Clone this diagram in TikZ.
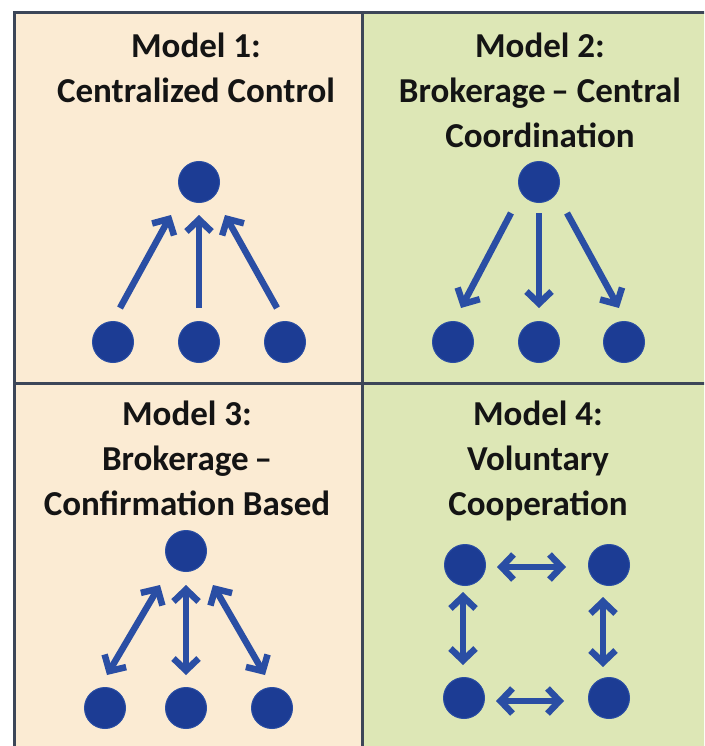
\documentclass[tikz,border=0pt]{standalone}
\usepackage{fontspec}
\setmainfont{Carlito}
\usetikzlibrary{arrows.meta,calc}
\definecolor{panelbeige}{HTML}{FBEBD3}
\definecolor{panelgreen}{HTML}{DDE7B6}
\definecolor{dotblue}{HTML}{1C3C94}
\definecolor{arrblue}{HTML}{2A4EA4}
\definecolor{gridline}{HTML}{3C4658}
\begin{document}
\begin{tikzpicture}[x=1pt,y=-1pt,
  dot/.style={circle,fill=dotblue,draw=arrblue,line width=1pt,minimum size=41pt,inner sep=0pt},
  barb/.tip={Straight Barb[length=12pt,width=25pt]},
  arr/.style={draw=arrblue,line width=6.5pt,-barb},
  darr/.style={draw=arrblue,line width=6.5pt,barb-barb},
  ttl/.style={font=\fontsize{35}{45}\selectfont\bfseries,align=center,anchor=north,inner sep=0pt,text=black!92},
  border/.style={draw=gridline,line width=3pt}]
\clip (0,0) rectangle (704,746);
\fill[white] (0,0) rectangle (704,746);
\fill[panelbeige] (14,13) rectangle (362,383);
\fill[panelgreen] (362,13) rectangle (712,383);
\fill[panelbeige] (14,383) rectangle (362,754);
\fill[panelgreen] (362,383) rectangle (712,754);
\draw[border] (14,13) rectangle (712,754);
\draw[border] (362,13) -- (362,754);
\draw[border] (14,383) -- (712,383);

% titles
\node[ttl] (t1) at (196,33) {Model 1:\\Centralized Control};
\node[ttl] (t2) at (540,33) {Model 2:\\Brokerage\,– Central\\Coordination};
\node[ttl] (t3) at (187,401) {Model 3:\\Brokerage\,–\\Confirmation Based};
\node[ttl] (t4) at (538,401) {Model 4:\\Voluntary\\Cooperation};

% Model 1
\node[dot] (m1t) at (199,182) {};
\node[dot] (m1a) at (113,342) {};
\node[dot] (m1b) at (199,342) {};
\node[dot] (m1c) at (285,342) {};
\draw[arr] ($(m1a)+(7,-34)$) -- ($(m1t)+(-28,33)$);
\draw[arr] ($(m1b)+(0,-34)$) -- ($(m1t)+(0,33)$);
\draw[arr] ($(m1c)+(-8,-34)$) -- ($(m1t)+(26,33)$);

% Model 2
\node[dot] (m2t) at (539,182) {};
\node[dot] (m2a) at (453,342) {};
\node[dot] (m2b) at (539,342) {};
\node[dot] (m2c) at (624,342) {};
\draw[arr] ($(m2t)+(-28,31)$) -- ($(m2a)+(8,-34)$);
\draw[arr] ($(m2t)+(0,31)$) -- ($(m2b)+(0,-34)$);
\draw[arr] ($(m2t)+(28,31)$) -- ($(m2c)+(-5,-34)$);

% Model 3
\node[dot] (m3t) at (186,551) {};
\node[dot] (m3a) at (105,708) {};
\node[dot] (m3b) at (186,708) {};
\node[dot] (m3c) at (272,708) {};
\draw[darr] ($(m3t)+(-26,34)$) -- ($(m3a)+(2,-33)$);
\draw[darr] ($(m3t)+(0,34)$) -- ($(m3b)+(0,-33)$);
\draw[darr] ($(m3t)+(27,34)$) -- ($(m3c)+(-7,-33)$);

% Model 4
\node[dot] (m4a) at (465,565) {};
\node[dot] (m4b) at (609,565) {};
\node[dot] (m4c) at (464,698) {};
\node[dot] (m4d) at (609,698) {};
\draw[darr] ($(m4a)+(32,2)$) -- ($(m4b)+(-43,2)$);
\draw[darr] ($(m4c)+(32,3)$) -- ($(m4d)+(-45,3)$);
\draw[darr] ($(m4a)+(-2,27)$) -- ($(m4c)+(-1,-33)$);
\draw[darr] ($(m4b)+(-6,32)$) -- ($(m4d)+(-6,-31)$);
\end{tikzpicture}
\end{document}
